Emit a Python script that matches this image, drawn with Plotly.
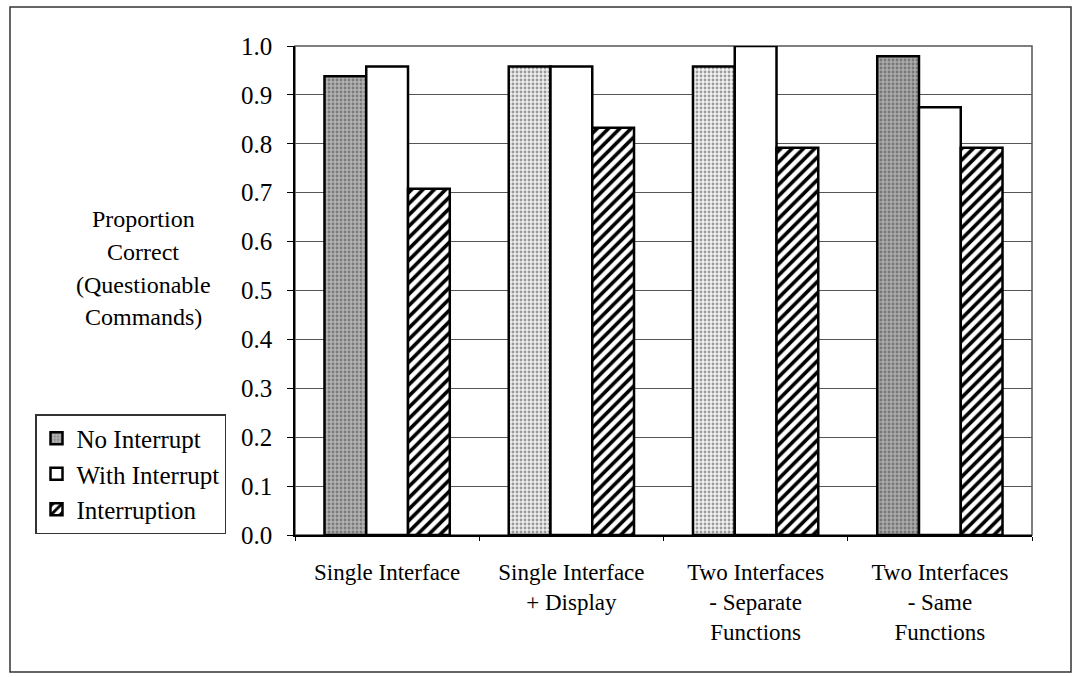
import plotly.graph_objects as go

# Conditions on the x axis (line breaks as printed under each group)
categories = [
    "Single Interface",
    "Single Interface<br>+ Display",
    "Two Interfaces<br>- Separate<br>Functions",
    "Two Interfaces<br>- Same<br>Functions",
]

# Proportion correct on questionable commands
no_interrupt = [0.938, 0.958, 0.958, 0.979]
with_interrupt = [0.958, 0.958, 1.0, 0.875]
interruption = [0.708, 0.833, 0.792, 0.792]

y_ticks = [0.0, 0.1, 0.2, 0.3, 0.4, 0.5, 0.6, 0.7, 0.8, 0.9, 1.0]
y_title_lines = ["Proportion", "Correct", "(Questionable", "Commands)"]

# Styling
SERIF = "Liberation Serif, Times New Roman, serif"
OUTLINE = dict(color="black", width=2.5)
stipple_bg = ["#b2b2b2", "#eeeeee", "#f2f2f2", "#aaaaaa"]
stipple_fg = ["#6e6e6e", "#b4b4b4", "#bcbcbc", "#686868"]

W, H = 1074, 677
ML, MR, MT, MB = 295, 42, 46, 142
PW, PH = W - ML - MR, H - MT - MB


def px_to_paper_x(px):
    return (px - ML) / PW


def px_to_paper_y(py):
    return (H - MB - py) / PH


fig = go.Figure()

fig.add_trace(go.Bar(
    name="No Interrupt", x=categories, y=no_interrupt,
    marker=dict(
        color=stipple_bg,
        line=OUTLINE,
        pattern=dict(shape=".", fgcolor=stipple_fg,
                     size=4, solidity=0.4, fillmode="overlay"),
    ),
))
fig.add_trace(go.Bar(
    name="With Interrupt", x=categories, y=with_interrupt,
    marker=dict(color="white", line=OUTLINE),
))
fig.add_trace(go.Bar(
    name="Interruption", x=categories, y=interruption,
    marker=dict(
        color="white",
        line=OUTLINE,
        pattern=dict(shape="/", bgcolor="white", fgcolor="black",
                     size=8, solidity=0.45, fillmode="replace"),
    ),
))

# Multi-line y-axis caption, one annotation per line
for line, py in zip(y_title_lines, [219, 252, 285, 317]):
    fig.add_annotation(
        text=line, xref="paper", yref="paper",
        x=px_to_paper_x(143), y=px_to_paper_y(py),
        xanchor="center", yanchor="middle", showarrow=False,
        font=dict(family=SERIF, size=24, color="black"),
    )

# Plot-area frame and outer figure frame
fig.add_shape(type="rect", xref="paper", yref="paper", x0=0, x1=1, y0=0, y1=1,
              line=dict(color="#555555", width=1.5), layer="below")
fig.add_shape(type="rect", xref="paper", yref="paper",
              x0=px_to_paper_x(10), x1=px_to_paper_x(1071),
              y0=px_to_paper_y(672), y1=px_to_paper_y(7),
              line=dict(color="#333333", width=1.5))

fig.update_layout(
    width=W, height=H,
    margin=dict(l=ML, r=MR, t=MT, b=MB),
    paper_bgcolor="white", plot_bgcolor="white",
    barmode="group", bargap=0.32, bargroupgap=0.0,
    font=dict(family=SERIF, color="black"),
    legend=dict(
        x=px_to_paper_x(35), y=px_to_paper_y(414),
        xanchor="left", yanchor="top",
        bordercolor="#333333", borderwidth=1.5, bgcolor="white",
        font=dict(family=SERIF, size=25, color="black"),
        itemwidth=30, tracegroupgap=0,
    ),
    xaxis=dict(
        showline=True, linecolor="black", linewidth=1.5,
        ticks="outside", tickson="boundaries", ticklen=4, tickcolor="black",
        tickfont=dict(family=SERIF, size=23, color="black"),
        ticklabelstandoff=16,
        showgrid=False,
    ),
    yaxis=dict(
        range=[0, 1.0], tickvals=y_ticks, tickformat=".1f",
        showline=True, linecolor="black", linewidth=1.5,
        ticks="outside", ticklen=6, tickcolor="black",
        tickfont=dict(family=SERIF, size=25, color="black"),
        ticklabelstandoff=10,
        showgrid=True, gridcolor="#555555", gridwidth=1,
        zeroline=False,
    ),
)

fig.write_html("out.html")
